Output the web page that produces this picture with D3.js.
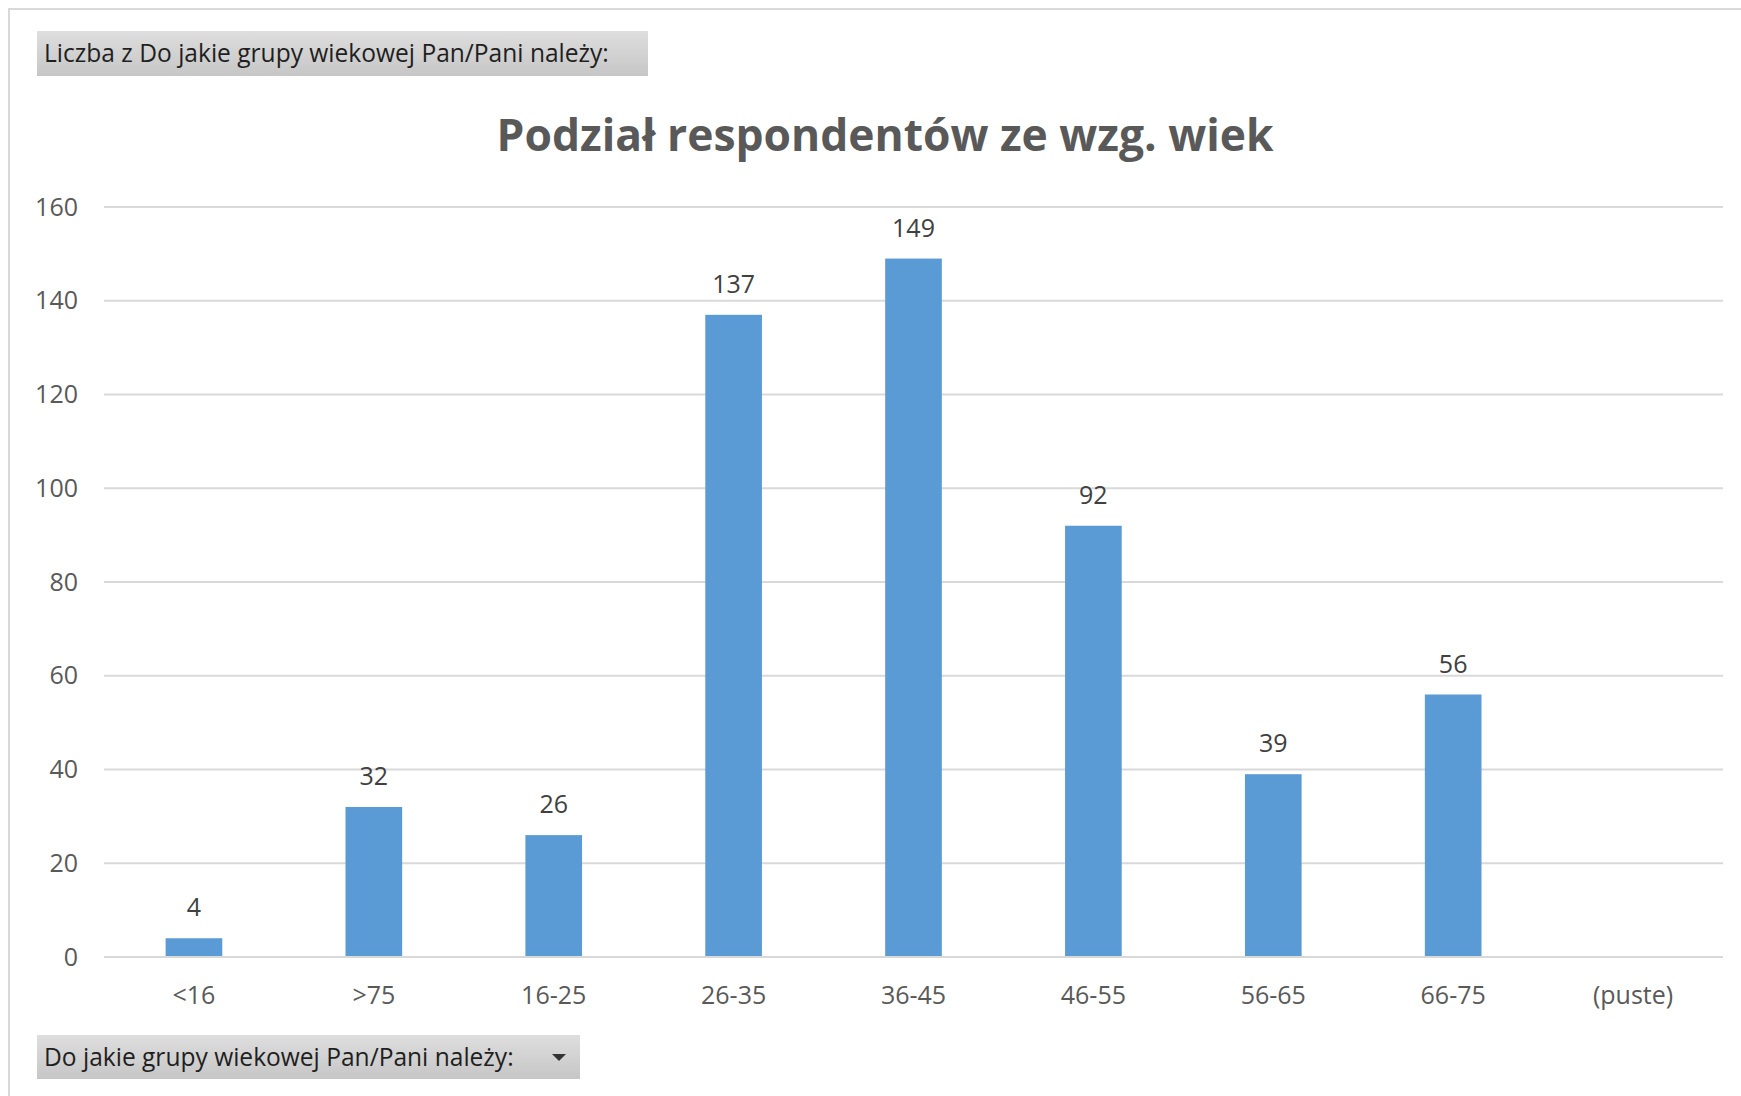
<!DOCTYPE html>
<html>
<head>
<meta charset="utf-8">
<script src="https://cdn.jsdelivr.net/npm/d3@7"></script>
<style>
body { margin:0; background:#ffffff; }
svg { display:block; font-family:"Open Sans", "DejaVu Sans", sans-serif; }
</style>
</head>
<body>
<svg id="chart" width="1741" height="1096"></svg>
<script>
var categories = ["<16", ">75", "16-25", "26-35", "36-45", "46-55", "56-65", "66-75", "(puste)"];
var counts = [4, 32, 26, 137, 149, 92, 39, 56, null];
var yTicks = [0, 20, 40, 60, 80, 100, 120, 140, 160];

var chartTitle = "Podział respondentów ze wzg. wiek";
var fieldButton = "Liczba z Do jakie grupy wiekowej Pan/Pani należy:";
var axisButton = "Do jakie grupy wiekowej Pan/Pani należy:";

var svg = d3.select("#chart");
var plotLeft = 104, plotRight = 1723, plotTop = 207, plotBottom = 957;

var x = d3.scaleBand().domain(categories).range([plotLeft, plotRight]).paddingInner(0.685).paddingOuter(0.3425);
var y = d3.scaleLinear().domain([0, 160]).range([plotBottom, plotTop]);

// gradient for the pivot buttons
var defs = svg.append("defs");
var grad = defs.append("linearGradient").attr("id","btnGrad").attr("x1",0).attr("y1",0).attr("x2",0).attr("y2",1);
grad.append("stop").attr("offset","0%").attr("stop-color","#dedede");
grad.append("stop").attr("offset","100%").attr("stop-color","#c6c6c6");

// outer frame
svg.append("rect").attr("x",9).attr("y",9).attr("width",1760).attr("height",1120)
	.attr("fill","none").attr("stroke","#d9d9d9").attr("stroke-width",2);

function fitText(sel, width)
{
	var w = sel.node().getComputedTextLength();
	var fs = parseFloat(sel.attr("font-size"));
	sel.attr("font-size", fs * width / w);
}

function drawButton(bx, by, bw, bh, label, textWidth, arrow)
{
	svg.append("rect").attr("x",bx).attr("y",by).attr("width",bw).attr("height",bh).attr("fill","url(#btnGrad)");
	var t = svg.append("text").attr("x",bx+7).attr("y",by+bh/2).attr("dy","0.36em")
		.attr("font-size",22).attr("fill","#1f1f1f").text(label);
	fitText(t, textWidth);
	if(arrow)
	{
		svg.append("path").attr("d",d3.line()([[arrow-7,by+bh/2-3],[arrow+7,by+bh/2-3],[arrow,by+bh/2+4]]))
			.attr("fill","#333333");
	}
}

drawButton(37, 31, 611, 45, fieldButton, 565, 0);
drawButton(37, 1035, 543, 44, axisButton, 470, 559);

// title
var title = svg.append("text").attr("x",885).attr("y",151).attr("text-anchor","middle")
	.attr("font-size",38).attr("font-weight","bold").attr("fill","#595959").text(chartTitle);
fitText(title, 777);

// gridlines
svg.append("g").selectAll("line").data(yTicks).enter().append("line")
	.attr("x1",plotLeft).attr("x2",plotRight)
	.attr("y1",function(d){ return y(d); }).attr("y2",function(d){ return y(d); })
	.attr("stroke","#d9d9d9").attr("stroke-width",2);

// y axis labels
var yAxis = svg.append("g").attr("transform","translate(" + plotLeft + ",0)")
	.call(d3.axisLeft(y).tickValues(yTicks).tickSize(0).tickPadding(26));
yAxis.select(".domain").remove();
yAxis.selectAll("text").attr("font-size",25).attr("fill","#595959").attr("font-family","\"Open Sans\", sans-serif");

// x axis labels
var xAxis = svg.append("g").attr("transform","translate(0," + plotBottom + ")")
	.call(d3.axisBottom(x).tickSize(0).tickPadding(29));
xAxis.select(".domain").remove();
xAxis.selectAll("text").attr("font-size",25).attr("fill","#595959").attr("font-family","\"Open Sans\", sans-serif");

var data = categories.map(function(c, i){ return {cat:c, val:counts[i]}; }).filter(function(d){ return d.val != null; });

// bars
svg.append("g").selectAll("rect").data(data).enter().append("rect")
	.attr("x",function(d){ return x(d.cat); })
	.attr("width",x.bandwidth())
	.attr("y",function(d){ return y(d.val); })
	.attr("height",function(d){ return y(0) - y(d.val) - 1; })
	.attr("fill","#5b9bd5");

// data labels
svg.append("g").selectAll("text").data(data).enter().append("text")
	.attr("x",function(d){ return x(d.cat) + x.bandwidth()/2; })
	.attr("y",function(d){ return y(d.val) - 22; })
	.attr("text-anchor","middle").attr("font-size",25).attr("fill","#404040")
	.text(function(d){ return d.val; });
</script>
</body>
</html>
